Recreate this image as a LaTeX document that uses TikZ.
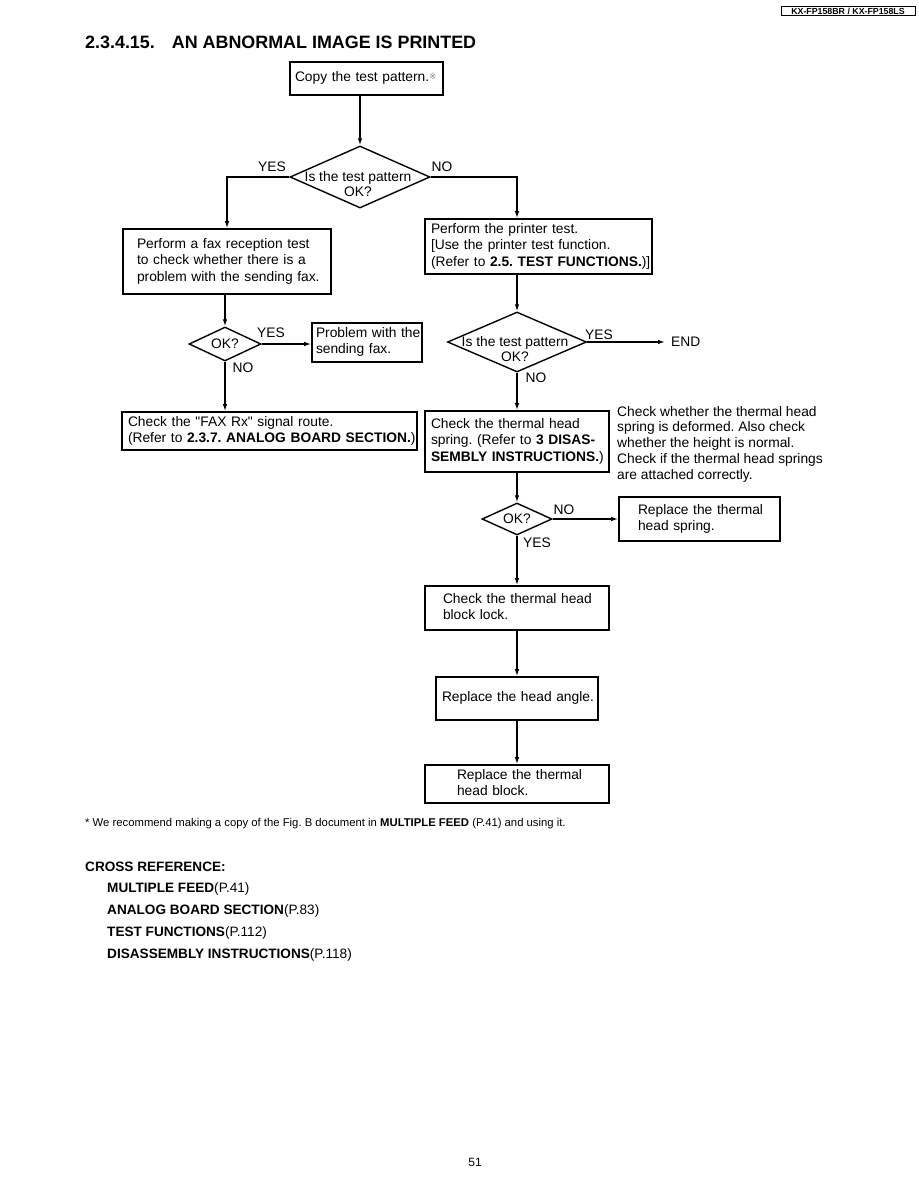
\documentclass[tikz,border=0pt]{standalone}
\usepackage{fontspec}
\setmainfont{Liberation Sans}
\newfontfamily\dejavu{DejaVu Sans}
\usetikzlibrary{shapes.geometric,arrows.meta}
\frenchspacing
\newcommand{\flowfont}{\fontsize{13.8}{16.4}\selectfont}
\newcommand{\decfont}{\fontsize{13.8}{14.5}\selectfont}
\newcommand{\notefont}{\fontsize{11.3}{13}\selectfont}
\newcommand{\xreffont}{\fontsize{13.6}{15}\selectfont}
\newcommand{\refmark}{\raisebox{2pt}{\dejavu\fontsize{9}{9}\selectfont\color{black!45}※}}
\newcommand{\boxlines}[1]{\begin{tabular}{@{}l@{}}#1\end{tabular}}

\begin{document}
\begin{tikzpicture}[x=1pt,y=-1pt,>={Latex[length=7pt,width=4.5pt]},
  every node/.style={font=\flowfont},
  stepbox/.style={draw,line width=1.6pt,inner ysep=0pt},
  decision/.style={draw,diamond,line width=1.4pt,inner sep=0pt},
  dectext/.style={font=\decfont,align=center,inner sep=0pt},
  tag/.style={inner sep=0pt},
  flowline/.style={line width=1.3pt}]
  \useasboundingbox[fill=white] (0,0) rectangle (918,1188);
  % page head
  \node[draw,line width=0.8pt,inner sep=1.5pt,minimum width=134,font=\bfseries\fontsize{8.8}{9}\selectfont] (model) at (848,11) {KX-FP158BR / KX-FP158LS};
  \node[anchor=west,inner sep=0pt,font=\bfseries\fontsize{17.9}{18}\selectfont] (title) at (85,42) {2.3.4.15.\hspace{17pt}AN ABNORMAL IMAGE IS PRINTED};
  % boxes
  \node[stepbox,minimum width=153,minimum height=33,inner xsep=5,text width=143] (copy) at (366.5,78.5) {\boxlines{Copy the test pattern.\refmark}};
  \node[stepbox,minimum width=208,minimum height=65,inner xsep=14,text width=180] (fax) at (227,261.5) {\boxlines{Perform a fax reception test\\to check whether there is a\\problem with the sending fax.}};
  \node[stepbox,minimum width=227,minimum height=55,inner xsep=6,text width=215] (printer) at (538.5,246.5) {\boxlines{Perform the printer test.\\{}[Use the printer test function.\\(Refer to \textbf{2.5. TEST FUNCTIONS.})]}};
  \node[stepbox,minimum width=110,minimum height=39,inner xsep=4,text width=102] (problem) at (367,342.5) {\boxlines{Problem with the\\sending fax.}};
  \node[stepbox,minimum width=295,minimum height=38,inner xsep=6,text width=283] (faxrx) at (269.5,431) {\boxlines{Check the \textquotedbl FAX Rx\textquotedbl{} signal route.\\(Refer to \textbf{2.3.7. ANALOG BOARD SECTION.})}};
  \node[stepbox,minimum width=184,minimum height=61,inner xsep=6,text width=172] (spring) at (517,441.5) {\boxlines{Check the thermal head\\spring. (Refer to \textbf{3 DISAS-}\\\textbf{SEMBLY INSTRUCTIONS.})}};
  \node[stepbox,minimum width=161,minimum height=44,inner xsep=19,text width=123] (replspring) at (699.5,519) {\boxlines{Replace the thermal\\head spring.}};
  \node[stepbox,minimum width=184,minimum height=44,inner xsep=18,text width=148] (lock) at (517,608) {\boxlines{Check the thermal head\\block lock.}};
  \node[stepbox,minimum width=162,minimum height=43,inner xsep=6,text width=150] (angle) at (517,698.5) {\boxlines{Replace the head angle.}};
  \node[stepbox,minimum width=184,minimum height=38,inner xsep=32,text width=120] (headblock) at (517,784) {\boxlines{Replace the thermal\\head block.}};
  \node[anchor=north west,inner sep=0pt,align=left,font=\fontsize{13.8}{15.7}\selectfont] (note) at (617,406) {Check whether the thermal head\\spring is deformed. Also check\\whether the height is normal.\\Check if the thermal head springs\\are attached correctly.};
  % decisions
  \node[decision,minimum width=140,minimum height=62] (d1) at (360,177) {};
  \node[dectext] (d1t) at (358,184) {Is the test pattern\\OK?};
  \node[decision,minimum width=72,minimum height=34] (d2) at (225,344) {};
  \node[dectext] (d2t) at (d2) {OK?};
  \node[decision,minimum width=139,minimum height=60] (d3) at (517,342) {};
  \node[dectext] (d3t) at (515,349) {Is the test pattern\\OK?};
  \node[decision,minimum width=70,minimum height=32] (d4) at (517,519) {};
  \node[dectext] (d4t) at (d4) {OK?};
  \node[tag,anchor=west] (endn) at (671,342) {END};
  % yes / no
  \node[tag] (y1) at (272,167) {YES};
  \node[tag] (n1) at (442,167) {NO};
  \node[tag] (y2) at (271,333) {YES};
  \node[tag] (n2) at (243,368) {NO};
  \node[tag] (y3) at (599,335) {YES};
  \node[tag] (n3) at (536,378) {NO};
  \node[tag] (n4) at (564,510) {NO};
  \node[tag] (y4) at (537,543) {YES};
  % connectors
  \draw[flowline,->] (copy.south -| d1.north) -- (d1.north);
  \draw[flowline,->] (d1.west) -| (fax.north);
  \draw[flowline,->] (d1.east) -| (d3.north |- printer.north);
  \draw[flowline,->] (fax.south -| d2.north) -- (d2.north);
  \draw[flowline,->] (d2.east) -- (d2.east -| problem.west);
  \draw[flowline,->] (d2.south) -- (d2.south |- faxrx.north);
  \draw[flowline,->] (printer.south -| d3.north) -- (d3.north);
  \draw[flowline,->] (d3.east) -- ([xshift=-6pt]endn.west);
  \draw[flowline,->] (d3.south) -- (spring.north);
  \draw[flowline,->] (spring.south) -- (d4.north);
  \draw[flowline,->] (d4.east) -- (d4.east -| replspring.west);
  \draw[flowline,->] (d4.south) -- (lock.north);
  \draw[flowline,->] (lock.south) -- (angle.north);
  \draw[flowline,->] (angle.south) -- (headblock.north);
  % footnote and cross reference
  \node[anchor=west,inner sep=0pt,font=\notefont] (foot) at (85,824) {* We recommend making a copy of the Fig. B document in \textbf{MULTIPLE FEED} (P.41) and using it.};
  \node[anchor=west,inner sep=0pt,font=\xreffont\bfseries] (xref) at (85,867) {CROSS REFERENCE:};
  \node[anchor=west,inner sep=0pt,font=\xreffont] (xr1) at (107,889) {\textbf{MULTIPLE FEED}(P.41)};
  \node[anchor=west,inner sep=0pt,font=\xreffont] (xr2) at (107,911) {\textbf{ANALOG BOARD SECTION}(P.83)};
  \node[anchor=west,inner sep=0pt,font=\xreffont] (xr3) at (107,933) {\textbf{TEST FUNCTIONS}(P.112)};
  \node[anchor=west,inner sep=0pt,font=\xreffont] (xr4) at (107,955) {\textbf{DISASSEMBLY INSTRUCTIONS}(P.118)};
  \node[inner sep=0pt,font=\fontsize{12}{12}\selectfont] (pageno) at (475,1162) {51};
\end{tikzpicture}
\end{document}
